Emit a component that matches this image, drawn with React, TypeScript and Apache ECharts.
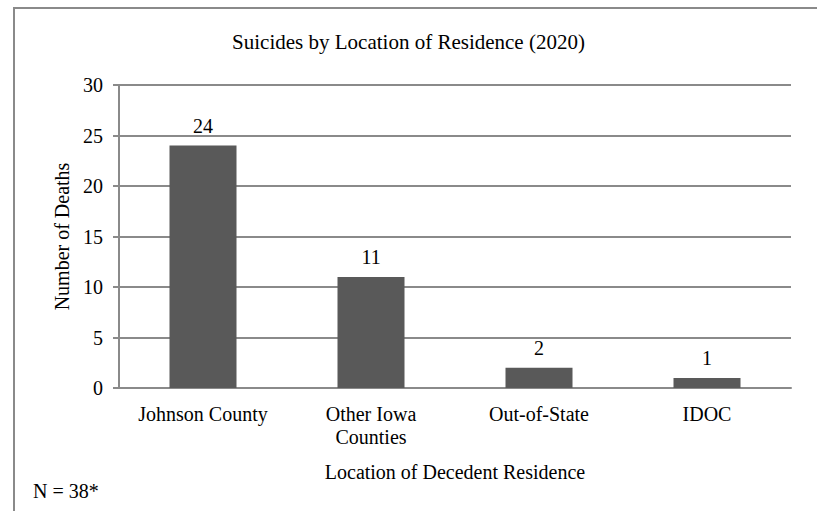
import React, { useEffect, useRef } from "react";
import * as echarts from "echarts";

const categories = ["Johnson County", "Other Iowa\nCounties", "Out-of-State", "IDOC"];
const deaths = [24, 11, 2, 1];
const yTicks = [0, 5, 10, 15, 20, 25, 30];

const FONT = "'Liberation Serif', 'Times New Roman', serif";

export default function App() {
  const ref = useRef<HTMLDivElement>(null);
  useEffect(() => {
    if (!ref.current) return;
    const chart = echarts.init(ref.current, null, { renderer: "svg" });
    chart.setOption({
      animation: false,
      backgroundColor: "#ffffff",
      textStyle: { fontFamily: FONT, color: "#000" },
      title: {
        text: "Suicides by Location of Residence (2020)",
        left: "center",
        top: 26,
        textStyle: { fontFamily: FONT, fontSize: 21, fontWeight: "normal", color: "#000" },
      },
      grid: { left: 119, right: 26, top: 85, bottom: 123, containLabel: false },
      xAxis: {
        type: "category",
        data: categories,
        name: "Location of Decedent Residence",
        nameLocation: "middle",
        nameGap: 74,
        nameTextStyle: { fontFamily: FONT, fontSize: 20, color: "#000" },
        axisLine: { lineStyle: { color: "#8a8a8a", width: 2 } },
        axisTick: { show: false },
        axisLabel: {
          interval: 0,
          hideOverlap: false,
          fontFamily: FONT,
          fontSize: 20,
          color: "#000",
          margin: 14,
          lineHeight: 23,
        },
      },
      yAxis: {
        type: "value",
        min: yTicks[0],
        max: yTicks[yTicks.length - 1],
        interval: 5,
        name: "Number of Deaths",
        nameLocation: "middle",
        nameGap: 46,
        nameTextStyle: { fontFamily: FONT, fontSize: 20, color: "#000" },
        axisLine: { show: true, lineStyle: { color: "#8a8a8a", width: 2 } },
        axisTick: { show: true, length: 6, lineStyle: { color: "#8a8a8a", width: 2 } },
        axisLabel: { fontFamily: FONT, fontSize: 20, color: "#000", margin: 16 },
        splitLine: { show: true, lineStyle: { color: "#8a8a8a", width: 2 } },
      },
      series: [
        {
          type: "bar",
          data: deaths,
          barWidth: 67,
          itemStyle: { color: "#595959" },
          label: {
            show: true,
            position: "top",
            distance: 10,
            fontFamily: FONT,
            fontSize: 20,
            color: "#000",
          },
        },
      ],
      graphic: [
        {
          type: "rect",
          shape: { x: 14, y: 8, width: 830, height: 530 },
          style: { fill: "none", stroke: "#8a8a8a", lineWidth: 2 },
          silent: true,
        },
        {
          type: "text",
          left: 33,
          top: 481,
          style: { text: "N = 38*", font: `20px ${FONT}`, fill: "#000" },
        },
      ],
    });
    return () => chart.dispose();
  }, []);
  return <div ref={ref} style={{ width: 817, height: 511, position: "absolute", left: 0, top: 0 }} />;
}
